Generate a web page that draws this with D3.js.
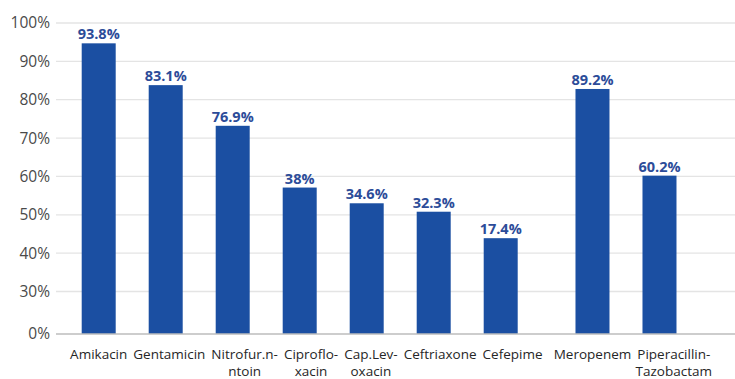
<!DOCTYPE html>
<html><head><meta charset="utf-8">
<script src="https://cdn.jsdelivr.net/npm/d3@7"></script>
<style>
html,body{margin:0;padding:0;background:#fff;}
svg{display:block;}
</style></head>
<body>
<svg id="chart" width="735" height="379"></svg>
<script>
// Categories: first line / second line of each label
const categories = ["Amikacin","Gentamicin","Nitrofurantoin","Ciprofloxacin","Cap.Levofloxacin","Ceftriaxone","Cefepime","Meropenem","Piperacillin-Tazobactam"];
const labelLine1 = ["Amikacin","Gentamicin","Nitrofur.n-","Ciproflo-","Cap.Lev-","Ceftriaxone","Cefepime","Meropenem","Piperacillin-"];
const labelLine2 = ["","","ntoin","xacin","oxacin","","","","Tazobactam"];
const groups = [0,0,0,0,0,0,0,1,1];
// bar heights as drawn against the axis
const barHeights = [94.7, 83.8, 73.2, 57.1, 53.0, 50.8, 43.9, 82.8, 60.2];
// value labels printed above bars
const valueLabels = ["93.8%","83.1%","76.9%","38%","34.6%","32.3%","17.4%","89.2%","60.2%"];
// y axis ticks
const tickValues = [0,30,40,50,60,70,80,90,100];
const tickLabels = ["0%","30%","40%","50%","60%","70%","80%","90%","100%"];

const svg = d3.select("#chart");
const font = "'Open Sans', 'Noto Sans', sans-serif";
const plotLeft = 56, plotRight = 735;
const y = d3.scaleLinear().domain([0,30,100]).range([334,291.5,23]);
const groupGap = 0.37;
const slot = categories.map((c,i)=> i + groups[i]*groupGap);
const x = d3.scaleLinear().domain([0,1]).range([98.7,165.7]);
const barW = 34;

// gridlines
svg.append("g").selectAll("line").data(tickValues.filter(v=>v>0)).join("line")
  .attr("x1",plotLeft).attr("x2",plotRight)
  .attr("y1",d=>y(d)).attr("y2",d=>y(d))
  .attr("stroke","#e4e4e4").attr("stroke-width",1.3);

// y axis labels
const yAxis = d3.axisLeft(y).tickValues(tickValues).tickSize(0).tickPadding(0)
  .tickFormat((d,i)=>tickLabels[i]);
const ya = svg.append("g").attr("transform","translate(50,0)").call(yAxis);
ya.select(".domain").remove();
ya.selectAll("text").attr("font-family",font)
  .attr("font-size","15.5px").attr("fill","#4a4a4a").attr("text-anchor","end");

// bars
svg.append("g").selectAll("rect").data(barHeights).join("rect")
  .attr("x",(d,i)=>x(slot[i])-barW/2)
  .attr("width",barW)
  .attr("y",d=>y(d))
  .attr("height",d=>y(0)-y(d))
  .attr("fill","#1b4fa2");

// baseline
svg.append("line").attr("x1",plotLeft).attr("x2",plotRight)
  .attr("y1",y(0)).attr("y2",y(0)).attr("stroke","#bdbdbd").attr("stroke-width",1.5);

// value labels
svg.append("g").selectAll("text").data(valueLabels).join("text")
  .attr("x",(d,i)=>x(slot[i]))
  .attr("y",(d,i)=>y(barHeights[i])-4)
  .attr("text-anchor","middle")
  .attr("font-family",font)
  .attr("font-weight","700").attr("font-size","14.5px").attr("fill","#2c4c99")
  .text(d=>d);

// x labels, centred under bars but pushed right when they would collide
const xl = svg.append("g").selectAll("text").data(categories).join("text")
  .attr("text-anchor","middle")
  .attr("font-family",font)
  .attr("font-size","13.5px").attr("fill","#262626");
const t1 = xl.append("tspan").attr("y",359).text((d,i)=>labelLine1[i]);
const t2 = xl.append("tspan").attr("y",376).text((d,i)=>labelLine2[i]);
const widths = [];
t1.each(function(d,i){ widths[i] = this.getComputedTextLength(); });
const centers = [];
const labelGap = 6;
let prevEnd = -Infinity;
categories.forEach((c,i)=>{
  let cx = x(slot[i]);
  const start = cx - widths[i]/2;
  if (start < prevEnd + labelGap) cx = prevEnd + labelGap + widths[i]/2;
  centers[i] = cx;
  prevEnd = cx + widths[i]/2;
});
t1.attr("x",(d,i)=>centers[i]);
t2.attr("x",(d,i)=>centers[i]);
</script>
</body></html>
